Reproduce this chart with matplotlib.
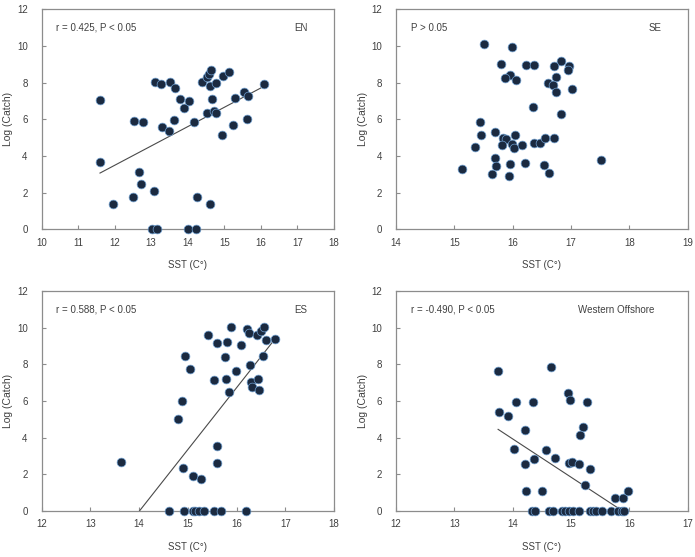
import numpy as np
import matplotlib
matplotlib.use('Agg')
import matplotlib.pyplot as plt

plt.rcParams['font.family'] = ['Liberation Sans', 'DejaVu Sans']

# EN
en_sst = [11.60, 11.61, 11.95, 12.49, 12.54, 12.77, 12.66, 12.71, 13.07, 13.03, 13.15,
          13.10, 13.26, 13.29, 13.49, 13.52, 13.66, 13.62, 13.79, 13.90, 14.04, 14.00,
          14.22, 14.17, 14.26, 14.40, 14.52, 14.54, 14.57, 14.64, 14.61, 14.66, 14.72,
          14.78, 14.77, 14.61, 14.95, 14.96, 15.12, 15.23, 15.28, 15.55, 15.65, 15.61, 16.09]
en_catch = [7.04, 3.65, 1.38, 1.78, 5.93, 5.85, 3.13, 2.49, 2.09, 0.0, 0.0,
            8.05, 7.91, 5.58, 5.38, 8.05, 7.73, 5.96, 7.09, 6.64, 7.02, 0.0,
            0.0, 5.87, 1.78, 8.05, 6.33, 8.33, 8.47, 8.69, 7.82, 7.09, 6.45,
            6.36, 7.96, 1.38, 5.13, 8.36, 8.56, 5.71, 7.15, 7.49, 7.27, 6.02, 7.91]
en_fit = (1.055, -9.17, 11.60, 16.00)  # slope, intercept, x from, x to

# SE
se_sst = [15.50, 15.99, 15.80, 16.23, 16.37, 16.83, 16.70, 16.97, 16.95, 15.96, 15.87,
          16.06, 16.74, 16.60, 16.69, 16.74, 17.01, 16.34, 16.83, 15.44, 15.46, 15.70,
          15.84, 15.89, 16.04, 15.36, 15.81, 15.99, 16.03, 16.16, 16.37, 16.47, 16.56,
          16.70, 15.70, 15.71, 15.96, 16.21, 16.54, 15.13, 15.64, 15.94, 16.63, 17.52]
se_catch = [10.13, 9.95, 9.04, 8.98, 8.98, 9.20, 8.91, 8.91, 8.69, 8.44, 8.24,
            8.13, 8.29, 7.96, 7.87, 7.51, 7.64, 6.67, 6.31, 5.84, 5.13, 5.31,
            5.00, 4.95, 5.13, 4.51, 4.58, 4.65, 4.42, 4.62, 4.69, 4.69, 5.00,
            5.00, 3.89, 3.47, 3.56, 3.64, 3.51, 3.29, 3.04, 2.89, 3.09, 3.78]

# ES
es_sst = [13.63, 14.61, 14.92, 15.11, 15.15, 15.24, 15.33, 15.54, 15.68, 16.19, 14.90,
          15.10, 15.28, 15.60, 15.60, 14.81, 14.88, 14.95, 15.04, 15.42, 15.60, 15.80,
          15.88, 15.77, 15.53, 15.78, 15.84, 15.99, 16.09, 16.21, 16.25, 16.42, 16.51,
          16.56, 16.61, 16.78, 16.54, 16.27, 16.30, 16.31, 16.45, 16.47]
es_catch = [2.68, 0.0, 0.0, 0.0, 0.0, 0.0, 0.0, 0.0, 0.0, 0.0, 2.35,
            1.91, 1.75, 3.55, 2.60, 5.01, 6.01, 8.45, 7.76, 9.62, 9.16, 9.20,
            10.04, 8.38, 7.16, 7.18, 6.50, 7.61, 9.07, 9.93, 9.69, 9.60, 9.84,
            10.04, 9.31, 9.38, 8.45, 7.94, 7.03, 6.76, 7.18, 6.61]
es_fit = (3.375, -47.28, 14.01, 16.73)

# Western Offshore
wo_sst = [13.74, 13.76, 13.92, 14.05, 14.35, 14.21, 14.02, 14.21, 14.36, 14.23, 14.50,
          14.57, 14.65, 14.73, 14.94, 14.98, 15.28, 15.21, 15.15, 14.96, 15.02, 15.13,
          15.33, 15.24, 15.75, 15.89, 15.97,
          14.33, 14.38, 14.63, 14.69, 14.85, 14.90, 14.96, 15.03, 15.14, 15.32, 15.38,
          15.43, 15.53, 15.69, 15.81, 15.87, 15.91]
wo_catch = [7.62, 5.39, 5.17, 5.97, 5.93, 4.43, 3.36, 2.58, 2.83, 1.11, 1.11,
            3.32, 7.86, 2.89, 6.42, 6.03, 5.95, 4.57, 4.12, 2.63, 2.70, 2.58,
            2.30, 1.40, 0.71, 0.71, 1.11,
            0.0, 0.0, 0.0, 0.0, 0.0, 0.0, 0.0, 0.0, 0.0, 0.0, 0.0,
            0.0, 0.0, 0.0, 0.0, 0.0, 0.0]
wo_fit = (-2.087, 33.15, 13.75, 15.82)

panels = [
    (en_sst, en_catch, en_fit, (10, 18), 'r = 0.425, P < 0.05', 'EN'),
    (se_sst, se_catch, None, (14, 19), 'P > 0.05', 'SE'),
    (es_sst, es_catch, es_fit, (12, 18), 'r = 0.588, P < 0.05', 'ES'),
    (wo_sst, wo_catch, wo_fit, (12, 17), 'r = -0.490, P < 0.05', 'Western Offshore'),
]

# axes boxes in pixels: left, top, right, bottom
boxes = [(41.5, 9.3, 334, 229.3), (396, 9.3, 687.7, 229.3),
         (41.5, 291, 334, 511), (396, 291, 687.7, 511)]
name_x = [0.91, 0.91, 0.91, 0.885]

W, H = 695, 557
fig = plt.figure(figsize=(W / 100, H / 100), dpi=100)
txt_col = '#404040'
frame_col = '#8c8c8c'

for (x, y, fit, xlim, stat, name), (l, t, r, b), nx in zip(panels, boxes, name_x):
    ax = fig.add_axes([l / W, 1 - b / H, (r - l) / W, (b - t) / H])
    ax.scatter(x, y, s=40, color='#1b2a40', edgecolors='#6f9fd0', linewidths=0.5,
               zorder=3, clip_on=False)
    if fit is not None:
        k, c, x0, x1 = fit
        xs = np.array([x0, x1])
        ax.plot(xs, k * xs + c, color='#4a4a4a', lw=0.8, zorder=2)
    ax.set_xlim(*xlim)
    ax.set_ylim(0, 12)
    ax.set_xticks(range(xlim[0], xlim[1] + 1))
    ax.set_yticks(range(0, 13, 2))
    ax.tick_params(axis='x', pad=6)
    ax.tick_params(axis='y', pad=10)
    ax.tick_params(direction='in', length=3, width=0.8, colors=frame_col,
                   labelcolor=txt_col, labelsize=7)
    for s in ax.spines.values():
        s.set_color(frame_col)
        s.set_linewidth(0.9)
    ax.set_xlabel('SST (C°)', fontsize=7, color=txt_col, labelpad=9)
    ax.set_ylabel('Log (Catch)', fontsize=7.5, color=txt_col, labelpad=2.5)
    ax.text(0.05, 0.915, stat, transform=ax.transAxes, fontsize=7, color=txt_col,
            ha='left', va='center')
    ax.text(nx, 0.915, name, transform=ax.transAxes, fontsize=7, color=txt_col,
            ha='right', va='center')

fig.savefig('out.png', dpi=100)
